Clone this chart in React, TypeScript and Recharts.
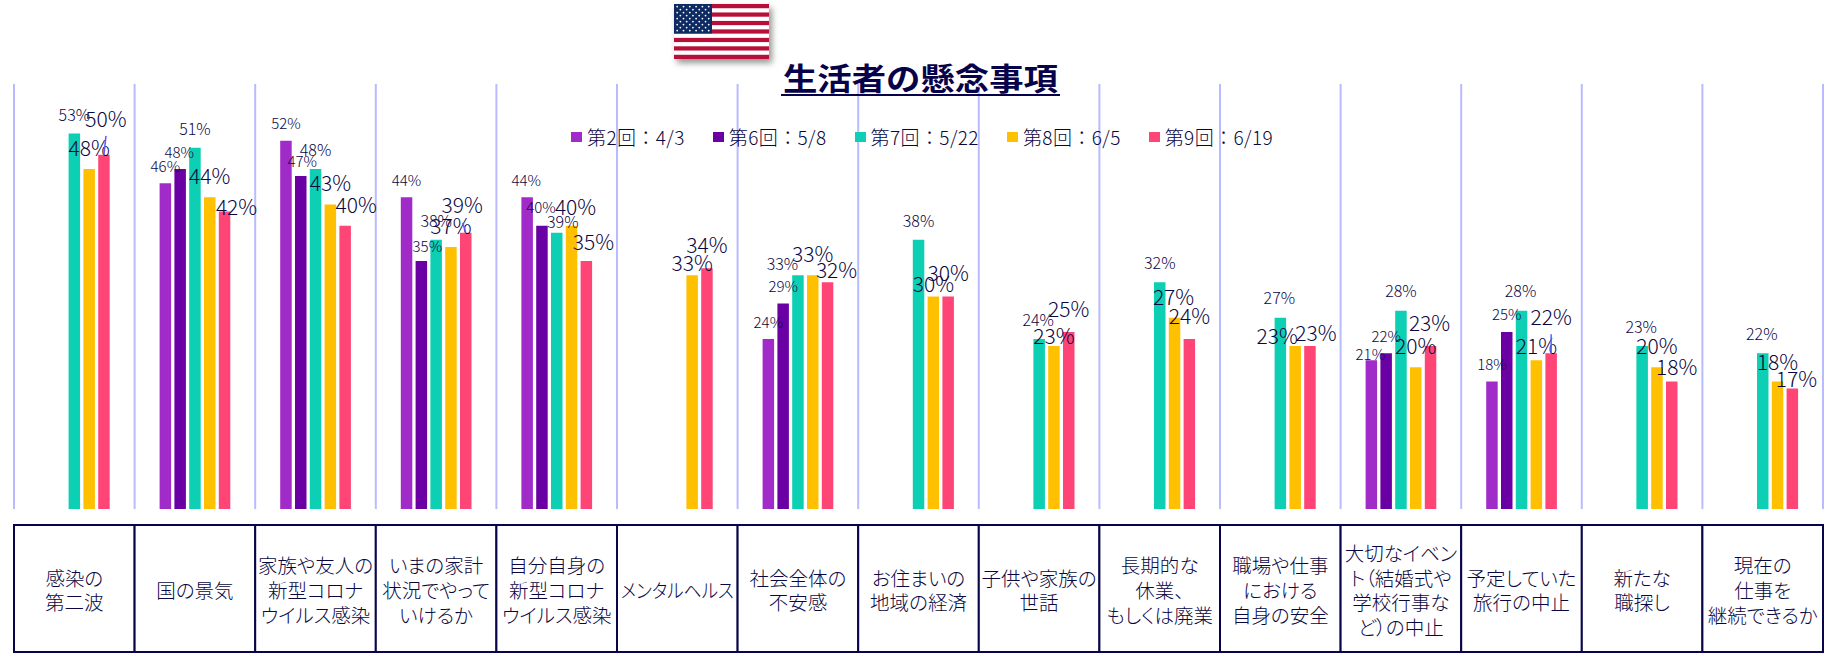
import React from 'react';
import { BarChart, Bar, XAxis, YAxis, CartesianGrid, Legend, LabelList } from 'recharts';

const categories = [
  '感染の\n第二波', '国の景気', '家族や友人の\n新型コロナ\nウイルス感染', 'いまの家計\n状況でやって\nいけるか',
  '自分自身の\n新型コロナ\nウイルス感染', 'メンタルヘルス', '社会全体の\n不安感', 'お住まいの\n地域の経済',
  '子供や家族の\n世話', '長期的な\n休業、\nもしくは廃業', '職場や仕事\nにおける\n自身の安全',
  '大切なイベン\nト（結婚式や\n学校行事な\nど）の中止', '予定していた\n旅行の中止', '新たな\n職探し', '現在の\n仕事を\n継続できるか',
];
const round2 = [null, 46, 52, 44, 44, null, 24, null, null, null, null, 21, 18, null, null];
const round6 = [null, 48, 47, 35, 40, null, 29, null, null, null, null, 22, 25, null, null];
const round7 = [53, 51, 48, 38, 39, null, 33, 38, 24, 32, 27, 28, 28, 23, 22];
const round8 = [48, 44, 43, 37, 40, 33, 33, 30, 23, 27, 23, 20, 21, 20, 18];
const round9 = [50, 42, 40, 39, 35, 34, 32, 30, 25, 24, 23, 23, 22, 18, 17];
const seriesNames = ['第2回：4/3', '第6回：5/8', '第7回：5/22', '第8回：6/5', '第9回：6/19'];

const rows = categories.map((name, i) => ({
  name, r2: round2[i], r6: round6[i], r7: round7[i], r8: round8[i], r9: round9[i],
}));

// Hand placement of the data labels, relative to the top centre of each bar: [dx, dy]
const nudge2: (number[] | null)[] = [null, [0, -18], [0, -18], [0, -18], [-1, -18], null, [0, -18], null, null, null, null, [-1, -7], [0, -18], null, null];
const nudge6: (number[] | null)[] = [null, [-1, -18], [1.5, -16], [6, -16], [-1, -18.7], null, [0, -18], null, null, null, null, [0, -18], [0, -18], null, null];
const nudge7: number[][] = [[0, -20], [0, -20], [0, -20], [0, -20], [6, -12], [0, 0], [-15.5, -12], [0, -20], [-1, -20], [0, -20], [-1, -21], [0, -21], [-1, -21], [-1, -20], [-1, -20]];
const nudge8: number[][] = [[0, -22], [0, -22], [0, -22], [0, -22], [4, -20], [0, -13], [0, -22], [0, -14], [0, -11.5], [-1, -22], [-18, -11], [0, -22], [0, -15], [0, -22], [0, -21]];
const nudge9: number[][] = [[2, -37], [12, -6], [11, -22], [-3.6, -29], [7, -20], [0, -24], [9, -13], [0, -25], [0, -24], [0, -24], [6, -14], [-1, -24], [0, -37], [5, -16], [4, -11]];
const leaders: Record<number, number[]> = { 0: [2, -19], 3: [-3, -10], 12: [0, -19] };

const INK = '#0A063F';
const FONT = '"Noto Sans CJK JP", "Noto Sans", sans-serif';
const SWATCH = ['#A02BC9', '#6A00A3', '#0DCFB3', '#FFC000', '#FF4575'];
const PLOT_LEFT = 14;
const BAND = 120.6;

function makeLabel(nudges: (number[] | null)[], size: number, withLeaders = false) {
  return (p: any) => {
    const { x, y, width, value } = p;
    const cx = Number(x) + Number(width) / 2;
    // Recharts drops empty points from the label list, so the band comes from the bar's own x.
    const band = Math.floor((cx - PLOT_LEFT) / BAND);
    if (value == null || !nudges[band]) return null;
    const [dx, dy] = nudges[band] as number[];
    const lead = withLeaders ? leaders[band] : undefined;
    return (
      <g>
        {lead && <line x1={cx + lead[0]} y1={Number(y) + lead[1]} x2={cx} y2={Number(y)} stroke="#5A5CFF" strokeWidth={1.5} />}
        <text x={cx + dx} y={Number(y) + dy} textAnchor="middle" dominantBaseline="central"
          fontFamily={FONT} fontSize={size} fontWeight={300} fill={INK}>{value}%</text>
      </g>
    );
  };
}

function CellTick(p: any) {
  const { x, payload } = p;
  const lines = String(payload.value).split('\n');
  const w = BAND, top = 525, h = 127, pitch = 24.7;
  const start = 589.5 - ((lines.length - 1) * pitch) / 2;
  return (
    <g>
      <rect x={x - w / 2} y={top} width={w} height={h} fill="#fff" stroke="#08054A" strokeWidth={2} />
      {lines.map((t, i) => (
        <text key={i} x={x} y={start + i * pitch} textAnchor="middle" dominantBaseline="central"
          fontFamily={FONT} fontSize={19.5} fontWeight={300} fill={INK} style={{ fontFeatureSettings: '"palt"' }}
          {...(t.length > 6 ? { textLength: 113, lengthAdjust: 'spacingAndGlyphs' } : {})}>{t}</text>
      ))}
    </g>
  );
}

function LegendRow({ payload }: any) {
  return (
    <div style={{ display: 'flex', alignItems: 'center', fontFamily: FONT, fontWeight: 300, fontSize: 19, color: INK, whiteSpace: 'nowrap' }}>
      {(payload || []).map((e: any, i: number) => (
        <div key={i} style={{ display: 'flex', alignItems: 'center', marginRight: 28 }}>
          <span style={{ display: 'inline-block', width: 11, height: 10, background: e.color, marginRight: 5 }} />
          <span style={{ letterSpacing: 0.4 }}>{e.value}</span>
        </div>
      ))}
    </div>
  );
}

function Flag() {
  const stripes = Array.from({ length: 13 }, (_, i) => i);
  const dots: number[][] = [];
  for (let r = 0; r < 9; r++) {
    const n = r % 2 === 0 ? 6 : 5;
    for (let c = 0; c < n; c++) dots.push([3.2 + c * 6.3 + (r % 2 ? 3.15 : 0), 2.6 + r * 3]);
  }
  return (
    <svg width={105} height={70} style={{ position: 'absolute', left: 674, top: 4, overflow: 'visible', filter: 'drop-shadow(3px 4px 3px rgba(60,60,60,.55))' }}>
      <rect width={95} height={55} fill="#fff" />
      {stripes.filter((i) => i % 2 === 0).map((i) => (
        <rect key={i} y={(i * 55) / 13} width={95} height={55 / 13} fill="#B70F3A" />
      ))}
      <rect width={38} height={29.5} fill="#0E2A63" />
      {dots.map((d, i) => <circle key={i} cx={d[0]} cy={d[1]} r={0.9} fill="#fff" />)}
    </svg>
  );
}

export default function App() {
  return (
    <div style={{ position: 'absolute', left: 0, top: 0, width: 1841, height: 655, background: '#fff', overflow: 'hidden' }}>
      <BarChart width={1841} height={655} data={rows} barSize={11.5} barGap={3.3}
        margin={{ top: 84, right: 18, left: 14, bottom: 0 }}>
        <CartesianGrid horizontal={false} stroke="#B9BBFF" strokeWidth={2}
          verticalCoordinatesGenerator={({ offset }: any) =>
            Array.from({ length: categories.length + 1 }, (_, i) => offset.left + (i * offset.width) / categories.length)} />
        <XAxis dataKey="name" interval={0} height={146} tickLine={false} axisLine={false} tick={<CellTick />} />
        <YAxis hide domain={[0, 60]} />
        <Legend content={<LegendRow />} verticalAlign="top" wrapperStyle={{ position: 'absolute', left: 571, top: 123, width: 760, height: 0 }} />
        <Bar dataKey="r2" name={seriesNames[0]} fill={SWATCH[0]} isAnimationActive={false}>
          <LabelList dataKey="r2" content={makeLabel(nudge2, 15)} />
        </Bar>
        <Bar dataKey="r6" name={seriesNames[1]} fill={SWATCH[1]} isAnimationActive={false}>
          <LabelList dataKey="r6" content={makeLabel(nudge6, 15)} />
        </Bar>
        <Bar dataKey="r7" name={seriesNames[2]} fill={SWATCH[2]} isAnimationActive={false}>
          <LabelList dataKey="r7" content={makeLabel(nudge7, 16)} />
        </Bar>
        <Bar dataKey="r8" name={seriesNames[3]} fill={SWATCH[3]} isAnimationActive={false}>
          <LabelList dataKey="r8" content={makeLabel(nudge8, 21)} />
        </Bar>
        <Bar dataKey="r9" name={seriesNames[4]} fill={SWATCH[4]} isAnimationActive={false}>
          <LabelList dataKey="r9" content={makeLabel(nudge9, 21, true)} />
        </Bar>
      </BarChart>
      <Flag />
      <svg width={1841} height={110} style={{ position: 'absolute', left: 0, top: 0, pointerEvents: 'none' }}>
        <text x={920.5} y={90} textAnchor="middle" textLength={275} lengthAdjust="spacingAndGlyphs"
          fontFamily={FONT} fontWeight={700} fontSize={31} fill="#07034A">生活者の懸念事項</text>
        <line x1={781} x2={1060} y1={95} y2={95} stroke="#07034A" strokeWidth={2} />
      </svg>
    </div>
  );
}
